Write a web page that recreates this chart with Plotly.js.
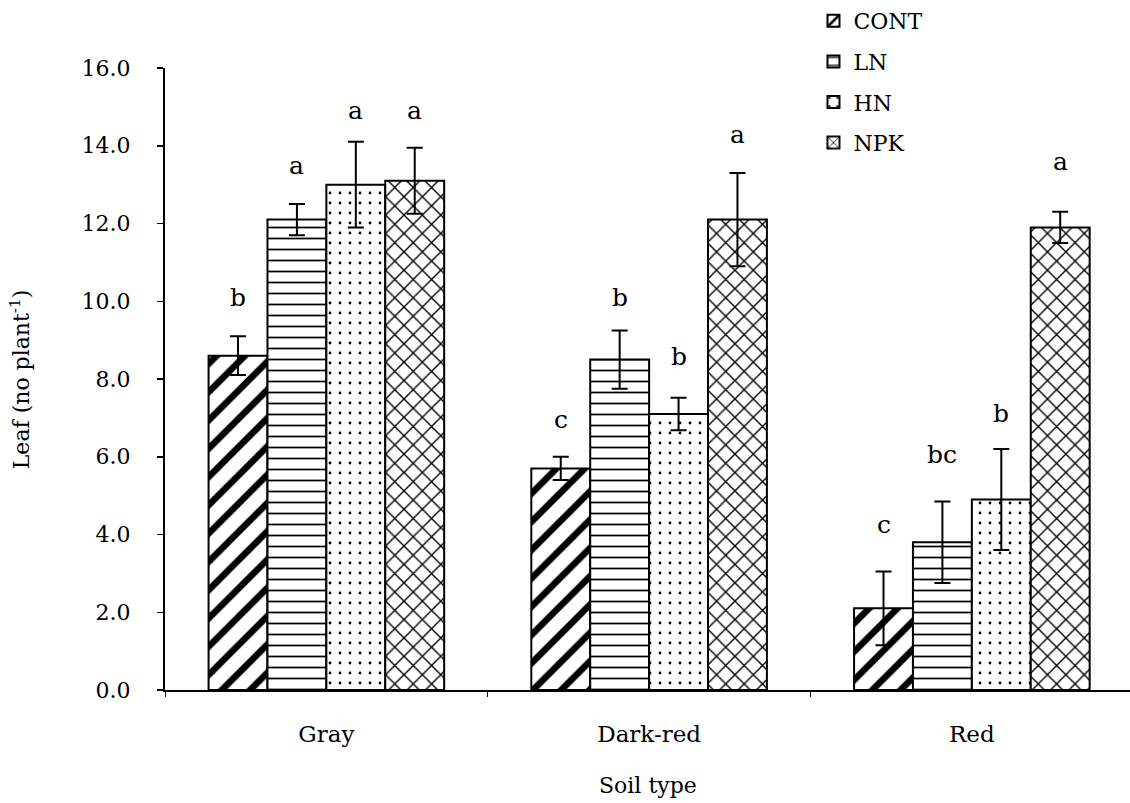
<!DOCTYPE html>
<html>
<head>
<meta charset="utf-8">
<script src="https://cdn.plot.ly/plotly-3.0.1.min.js"></script>
<style>
  html, body { margin: 0; padding: 0; background: #fff; }
  #chart { width: 1130px; height: 803px; }
</style>
</head>
<body>
<div id="chart"></div>
<script>
// Soil types on the x axis
const soils = ['Gray', 'Dark-red', 'Red'];

// Leaf number per plant, by treatment
const contVals = [8.6, 5.7, 2.1];
const lnVals   = [12.1, 8.5, 3.8];
const hnVals   = [13.0, 7.1, 4.9];
const npkVals  = [13.1, 12.1, 11.9];

// Error bar half-lengths
const contErr = [0.5, 0.3, 0.95];
const lnErr   = [0.4, 0.75, 1.05];
const hnErr   = [1.1, 0.42, 1.3];
const npkErr  = [0.85, 1.2, 0.4];

// Significance letters and the height at which each is written
const contLetters = ['b', 'c', 'c'];
const lnLetters   = ['a', 'b', 'bc'];
const hnLetters   = ['a', 'b', 'b'];
const npkLetters  = ['a', 'a', 'a'];
const contLetterY = [10.1, 6.95, 4.27];
const lnLetterY   = [13.5, 10.1, 6.05];
const hnLetterY   = [14.9, 8.57, 7.1];
const npkLetterY  = [14.9, 14.3, 13.6];

// Axis titles
const xTitle = 'Soil type';
const yTitle = 'Leaf (no plant<sup>-1</sup>)';

const bookFont = 'DejaVu Serif';

function barTrace(name, vals, errs, shape, size, solidity) {
  return {
    type: 'bar',
    name: name,
    x: soils,
    y: vals,
    legendgroup: name,
    marker: {
      color: '#ffffff',
      line: { color: '#000', width: 2 },
      pattern: { shape: shape, fgcolor: '#000', bgcolor: '#fff', size: size, solidity: solidity, fillmode: 'replace' }
    },
    error_y: { type: 'data', array: errs, visible: true, color: '#000', thickness: 2, width: 8 },
    hoverinfo: 'skip'
  };
}

const traces = [
  barTrace('CONT', contVals, contErr, '/', 20, 0.33),
  barTrace('LN', lnVals, lnErr, '-', 11, 0.16),
  barTrace('HN', hnVals, hnErr, '.', 10, 0.06),
  barTrace('NPK', npkVals, npkErr, 'x', 13, 0.2)
];

// Letter annotations placed over each bar within its group
const groups = [
  [contLetters, contLetterY],
  [lnLetters, lnLetterY],
  [hnLetters, hnLetterY],
  [npkLetters, npkLetterY]
];
const annotations = [];
const groupWidth = 0.73;
const slot = groupWidth / groups.length;
groups.forEach((g, ti) => {
  const letters = g[0], ys = g[1];
  soils.forEach((s, ci) => {
    annotations.push({
      x: ci - groupWidth / 2 + slot * (ti + 0.5),
      y: ys[ci],
      xref: 'x', yref: 'y',
      text: letters[ci],
      showarrow: false,
      yanchor: 'middle',
      font: { family: bookFont, size: 25, color: '#000' }
    });
  });
});

// Axis titles beside the plot area
annotations.push({
  x: 0.5, y: -0.154, xref: 'paper', yref: 'paper',
  xanchor: 'center', yanchor: 'middle',
  text: xTitle, showarrow: false,
  font: { family: bookFont, size: 22, color: '#000' }
});
annotations.push({
  x: -0.15, y: 0.5, xref: 'paper', yref: 'paper',
  xanchor: 'center', yanchor: 'middle',
  text: yTitle, showarrow: false, textangle: -90,
  font: { family: bookFont, size: 22, color: '#000' }
});

const layout = {
  width: 1130,
  height: 803,
  margin: { l: 165, r: 0, t: 61, b: 113 },
  paper_bgcolor: '#fff',
  plot_bgcolor: '#fff',
  barmode: 'group',
  bargap: 0.27,
  bargroupgap: 0,
  font: { family: bookFont, size: 22, color: '#000' },
  showlegend: true,
  legend: {
    x: 0.672, xanchor: 'left',
    y: 1.11, yanchor: 'top',
    orientation: 'v',
    traceorder: 'grouped',
    tracegroupgap: 9,
    font: { family: bookFont, size: 22, color: '#000' },
    bgcolor: 'rgba(0,0,0,0)',
    itemwidth: 30
  },
  xaxis: {
    type: 'category',
    range: [-0.5, 2.49],
    showline: true,
    linecolor: '#000',
    linewidth: 2,
    ticks: 'outside',
    tickson: 'boundaries',
    ticklen: 5,
    tickcolor: '#000',
    tickwidth: 1,
    showgrid: false,
    zeroline: false,
    ticklabelstandoff: 22,
    tickfont: { family: bookFont, size: 23 }
  },
  yaxis: {
    range: [0, 16],
    dtick: 2,
    tick0: 0,
    tickformat: '.1f',
    showline: true,
    linecolor: '#000',
    linewidth: 2,
    ticks: 'outside',
    ticklen: 6,
    tickcolor: '#000',
    tickwidth: 1.5,
    showgrid: false,
    zeroline: false,
    ticklabelstandoff: 22,
    tickfont: { family: bookFont, size: 22 }
  },
  annotations: annotations
};

Plotly.newPlot('chart', traces, layout, { displayModeBar: false, staticPlot: true });
</script>
</body>
</html>
